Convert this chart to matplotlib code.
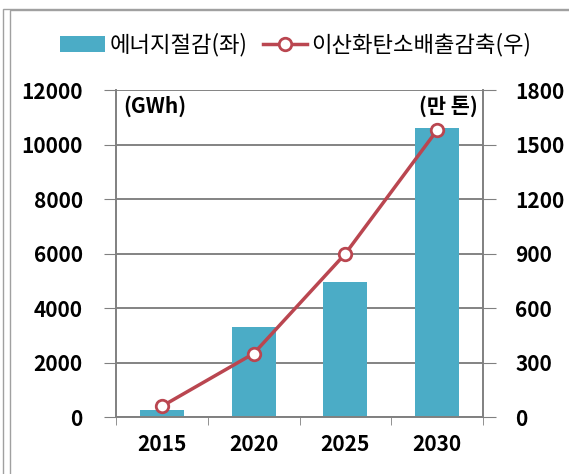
import matplotlib
matplotlib.use("Agg")
import matplotlib.pyplot as plt
from matplotlib.patches import Rectangle

plt.rcParams['font.family'] = ['Noto Sans CJK KR', 'DejaVu Sans']

years = ['2015', '2020', '2025', '2030']
energy = [250, 3300, 4950, 10600]       # 에너지절감 (GWh), left axis
co2 = [60, 350, 900, 1580]              # 이산화탄소배출감축 (만 톤), right axis
left_ticks = [0, 2000, 4000, 6000, 8000, 10000, 12000]
right_ticks = [0, 300, 600, 900, 1200, 1500, 1800]

bar_color = '#4BACC6'
line_color = '#BA4650'

fig = plt.figure(figsize=(5.69, 4.74), dpi=100)
ax = fig.add_axes([0.204, 0.120, 0.645, 0.690])
ax2 = ax.twinx()

x = range(len(years))
b = ax.bar(x, energy, width=0.48, color=bar_color, zorder=2,
           label='에너지절감(좌)')
l, = ax2.plot(x, co2, color=line_color, lw=2.5, marker='o', ms=9,
              mfc='white', mec=line_color, mew=2, zorder=3,
              label='이산화탄소배출감축(우)')

ax.set_xlim(-0.5, 3.5)
ax.set_ylim(0, 12000)
ax2.set_ylim(0, 1800)
ax.set_yticks(left_ticks)
ax2.set_yticks(right_ticks)
ax.set_xticks(x)
ax.set_xticklabels(years)
ax.set_xticks([-0.5, 0.5, 1.5, 2.5, 3.5], minor=True)
ax.tick_params(axis='x', which='major', length=0, pad=12)
ax.tick_params(axis='x', which='minor', length=6, color='#808080', direction='out')
ax.tick_params(axis='y', length=9, color='#808080', pad=15)
ax2.tick_params(axis='y', length=9, color='#808080', pad=14)
for lab in ax.get_xticklabels() + ax.get_yticklabels() + ax2.get_yticklabels():
    lab.set_fontsize(15)
    lab.set_fontweight('bold')

ax.grid(axis='y', color='#6E6E6E', lw=1.2, zorder=0)
ax.set_axisbelow(True)
for a in (ax, ax2):
    a.spines['top'].set_visible(False)
    for s in ('left', 'right', 'bottom'):
        a.spines[s].set_color('#808080')
        a.spines[s].set_linewidth(1.2)

ax.text(0.02, 0.985, '(GWh)', transform=ax.transAxes, ha='left', va='top',
        fontsize=15, fontweight='bold')
ax.text(0.985, 0.985, '(만 톤)', transform=ax.transAxes, ha='right', va='top',
        fontsize=15, fontweight='bold')

fig.legend([b, l], ['에너지절감(좌)', '이산화탄소배출감축(우)'], loc='center',
           bbox_to_anchor=(0.52, 0.905), ncol=2, frameon=False, fontsize=16,
           handlelength=2.0, handletextpad=0.2, columnspacing=0.7)

# outer chart frame
fig.add_artist(Rectangle((0.006, -0.02), 1.1, 1.0, transform=fig.transFigure,
                         fill=False, ec='#A0A0A0', lw=1))
fig.add_artist(Rectangle((0.018, -0.02), 1.1, 0.998, transform=fig.transFigure,
                         fill=False, ec='#A0A0A0', lw=1))

fig.savefig('out.png', dpi=100)
